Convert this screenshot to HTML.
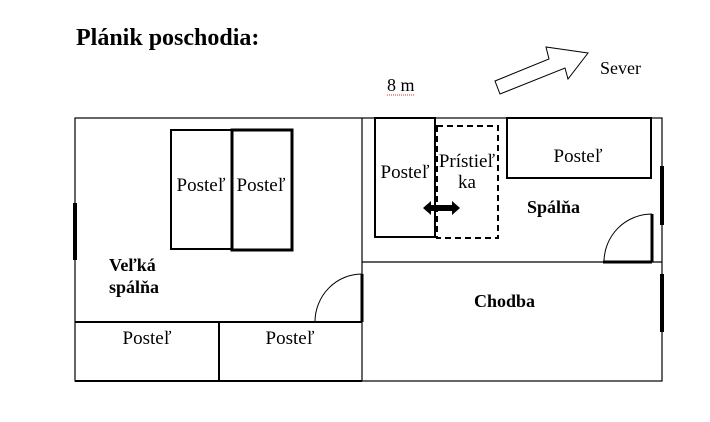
<!DOCTYPE html>
<html><head><meta charset="utf-8"><style>body{margin:0;background:#fff}svg{display:block}text{font-family:"Liberation Serif",serif;fill:#000}</style></head><body>
<svg width="710" height="422" viewBox="0 0 710 422" xmlns="http://www.w3.org/2000/svg">
<text x="76" y="45" font-size="24" font-weight="bold">Plánik poschodia:</text>
<text x="387" y="91" font-size="18">8 m</text>
<line x1="387" y1="95" x2="415" y2="95" stroke="#c33" stroke-width="1" stroke-dasharray="1,1"/>
<text x="600" y="74" font-size="18">Sever</text>
<polygon points="495,81 549,59 546,47 588,53 568,79 565,68 500,94" fill="#fff" stroke="#000" stroke-width="1"/>
<g fill="none" stroke="#000">
<rect x="75" y="118" width="587" height="263" stroke-width="1.2"/>
<line x1="362" y1="118" x2="362" y2="381" stroke-width="1.2"/>
<line x1="362" y1="262" x2="662" y2="262" stroke-width="1.2"/>
<line x1="75" y1="322" x2="362" y2="322" stroke-width="2"/>
<line x1="219" y1="322" x2="219" y2="381" stroke-width="2"/>
<line x1="75" y1="381" x2="362" y2="381" stroke-width="2"/>
<rect x="171" y="130" width="61" height="119" stroke-width="2"/>
<rect x="232" y="130" width="60" height="120" stroke-width="3"/>
<rect x="375" y="118" width="60" height="119" stroke-width="2"/>
<rect x="437" y="126" width="61" height="112" stroke-width="2" stroke-dasharray="6,4"/>
<rect x="507" y="118" width="144" height="60" stroke-width="2"/>
<line x1="75" y1="203" x2="75" y2="260" stroke-width="4"/>
<line x1="662" y1="166" x2="662" y2="225" stroke-width="4"/>
<line x1="662" y1="274" x2="662" y2="332" stroke-width="4"/>
<line x1="362" y1="274" x2="362" y2="322" stroke-width="3"/>
<path d="M315,322 A47,48 0 0 1 362,274" stroke-width="1"/>
<line x1="652" y1="214" x2="652" y2="262" stroke-width="3"/>
<line x1="603" y1="262" x2="652" y2="262" stroke-width="3"/>
<path d="M604,262 A48,48 0 0 1 652,214" stroke-width="1"/>
</g>
<polygon points="423,208 431,201 431,205 452,205 452,201 460,208 452,215 452,211 431,211 431,215" fill="#000"/>
<g font-size="19" text-anchor="middle">
<text x="201" y="191">Posteľ</text>
<text x="261" y="191">Posteľ</text>
<text x="147" y="344">Posteľ</text>
<text x="290" y="344">Posteľ</text>
<text x="405" y="178">Posteľ</text>
<text x="467" y="167">Prístieľ</text>
<text x="467" y="188">ka</text>
<text x="578" y="162">Posteľ</text>
</g>
<g font-size="18" font-weight="bold">
<text x="109" y="271">Veľká</text>
<text x="109" y="293">spálňa</text>
<text x="527" y="213">Spálňa</text>
<text x="474" y="307">Chodba</text>
</g>
</svg>
</body></html>
